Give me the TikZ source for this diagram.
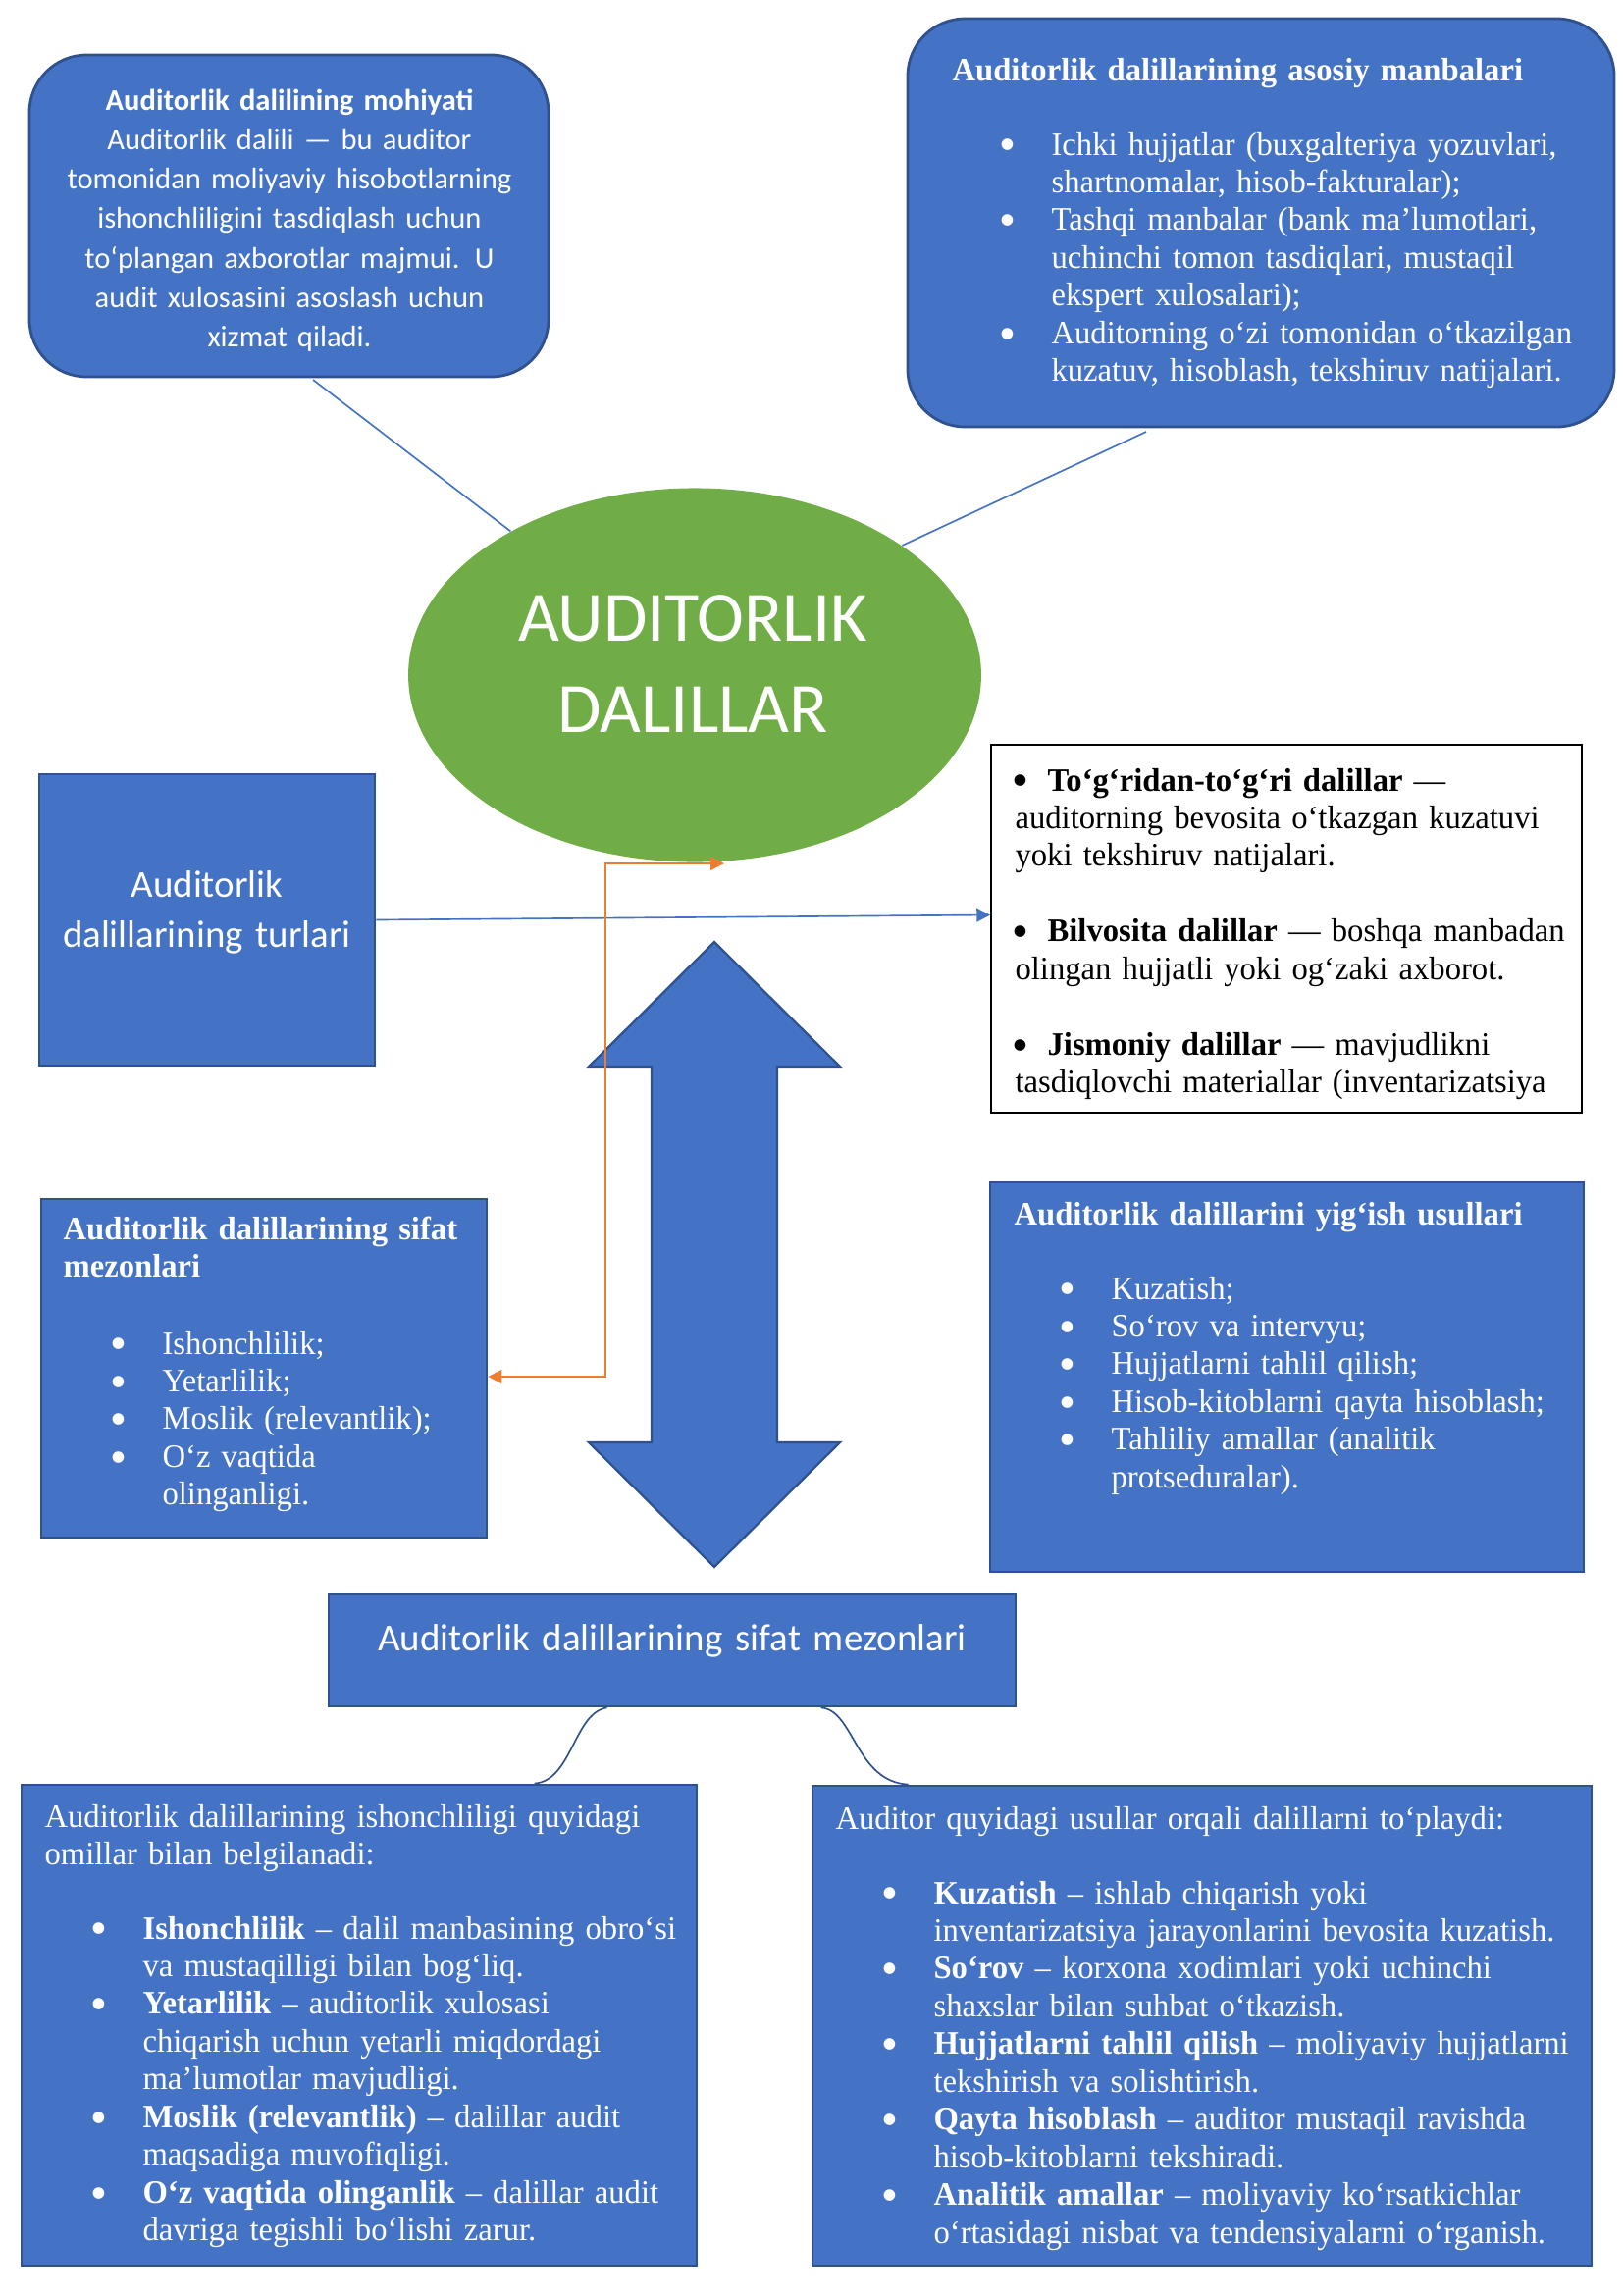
\documentclass[tikz,border=0pt]{standalone}
\usepackage{fontspec}
\setmainfont{Liberation Serif}[FakeStretch=0.98]
\newfontfamily\carlito{Carlito}
\newfontfamily\djv{DejaVu Sans}
\usetikzlibrary{shapes.geometric,fit,arrows.meta,calc}
\definecolor{obl}{HTML}{4472C4}
\definecolor{obd}{HTML}{2F528F}
\definecolor{ogr}{HTML}{70AD47}
\definecolor{oor}{HTML}{ED7D31}
\newcommand{\bigbul}{\makebox[0pt]{\raisebox{2.2pt}{\djv\fontsize{5.5}{6}\selectfont ●}}}
\newcommand{\bi}{\leavevmode\llap{\bigbul\hspace{16.2pt}}}
\newcommand{\wbul}{\hspace{1.8pt}\bigbul\hspace{10.1pt}}
\begin{document}
\begin{tikzpicture}[x=0.36pt,y=-0.36pt,
  >={Triangle[length=5pt,width=5pt]},
  bluebox/.style={fill=obl, draw=obd, line width=1pt, inner sep=0},
  wtxt/.style={inner sep=0, anchor=base west, align=left, text width=270pt, text=white, font=\fontsize{12}{13.85}\selectfont},
  wtitle/.style={wtxt, font=\fontsize{12}{13.85}\selectfont\bfseries},
  ctxt/.style={inner sep=0, anchor=base, align=center, text=white},
  conn/.style={draw=obl, line width=0.6pt},
  oconn/.style={draw=oor, line width=0.6pt},
  cconn/.style={draw=obd, line width=0.6pt}]
\useasboundingbox (0,0) rectangle (1654,2339);

% big double arrow
\path[fill=obl, draw=obd, line width=0.8pt] (728,960) -- (856,1087) -- (792,1087) -- (792,1470) -- (856,1470) -- (728,1597) -- (600,1470) -- (664,1470) -- (664,1087) -- (600,1087) -- cycle;

% central ellipse
\node (ell) [ellipse, fill=ogr, inner sep=0, minimum width=210.2pt, minimum height=137.2pt] at (708,688) {};
\node (elltext) [ctxt, text width=150pt, font=\carlito\fontsize{26}{33.5}\selectfont] at (706,653) {AUDITORLIK\\DALILLAR};

% top-left box
\node (tl) [bluebox, rounded corners=21pt, fit={(30,56)(559,384)}] {};
\node (tltext) [ctxt, text width=190pt, font=\carlito\fontsize{11}{14.5}\selectfont] at (295,112)
  {\textbf{Auditorlik dalilining mohiyati}\\Auditorlik dalili — bu auditor\\tomonidan moliyaviy hisobotlarning\\ishonchliligini tasdiqlash uchun\\to‘plangan axborotlar majmui. U\\audit xulosasini asoslash uchun\\xizmat qiladi.};

% top-right box
\node (tr) [bluebox, rounded corners=21pt, fit={(925,19)(1645,435)}] {};
\node (trtitle) [wtitle] at (970,82) {Auditorlik dalillarining asosiy manbalari};
\node (trlist) [wtxt] at (1071,158)
  {\bi Ichki hujjatlar (buxgalteriya yozuvlari,\\shartnomalar, hisob-fakturalar);\\\bi Tashqi manbalar (bank ma’lumotlari,\\uchinchi tomon tasdiqlari, mustaqil\\ekspert xulosalari);\\\bi Auditorning o‘zi tomonidan o‘tkazilgan\\kuzatuv, hisoblash, tekshiruv natijalari.};

% types box
\node (turl) [bluebox, fit={(40,789)(382,1086)}] {};
\node (turltext) [ctxt, text width=120pt, font=\carlito\fontsize{14}{18.4}\selectfont] at (211,914) {Auditorlik\\dalillarining turlari};

% white box
\node (wb) [draw=black, line width=0.6pt, fill=white, inner sep=0, fit={(1010,759)(1612,1134)}] {};
\node (wbtext) [wtxt, text=black] at (1034,806)
  {\wbul\textbf{To‘g‘ridan-to‘g‘ri dalillar} —\\auditorning bevosita o‘tkazgan kuzatuvi\\yoki tekshiruv natijalari.\\[13.85pt]\wbul\textbf{Bilvosita dalillar} — boshqa manbadan\\olingan hujjatli yoki og‘zaki axborot.\\[13.85pt]\wbul\textbf{Jismoniy dalillar} — mavjudlikni\\tasdiqlovchi materiallar (inventarizatsiya};

% quality criteria box (left)
\node (sif) [bluebox, fit={(42,1222)(496,1567)}] {};
\node (siftitle) [wtitle] at (64,1263) {Auditorlik dalillarining sifat\\mezonlari};
\node (siflist) [wtxt] at (165,1380) {\bi Ishonchlilik;\\\bi Yetarlilik;\\\bi Moslik (relevantlik);\\\bi O‘z vaqtida\\olinganligi.};

% collection methods box (right)
\node (yig) [bluebox, fit={(1009,1205)(1614,1602)}] {};
\node (yigtitle) [wtitle] at (1033,1248) {Auditorlik dalillarini yig‘ish usullari};
\node (yiglist) [wtxt] at (1132,1324) {\bi Kuzatish;\\\bi So‘rov va intervyu;\\\bi Hujjatlarni tahlil qilish;\\\bi Hisob-kitoblarni qayta hisoblash;\\\bi Tahliliy amallar (analitik\\protseduralar).};

% middle bottom box
\node (mid) [bluebox, fit={(335,1625)(1035,1739)}] {};
\node (midtext) [ctxt, text width=240pt, font=\carlito\fontsize{14}{18.4}\selectfont] at (685,1682) {Auditorlik dalillarining sifat mezonlari};

% bottom-left box
\node (bl) [bluebox, fit={(22,1819)(710,2309)}] {};
\node (blintro) [wtxt] at (45,1862) {Auditorlik dalillarining ishonchliligi quyidagi\\omillar bilan belgilanadi:};
\node (bllist) [wtxt] at (145,1976)
  {\bi\textbf{Ishonchlilik} – dalil manbasining obro‘si\\va mustaqilligi bilan bog‘liq.\\\bi\textbf{Yetarlilik} – auditorlik xulosasi\\chiqarish uchun yetarli miqdordagi\\ma’lumotlar mavjudligi.\\\bi\textbf{Moslik (relevantlik)} – dalillar audit\\maqsadiga muvofiqligi.\\\bi\textbf{O‘z vaqtida olinganlik} – dalillar audit\\davriga tegishli bo‘lishi zarur.};

% bottom-right box
\node (br) [bluebox, fit={(828,1820)(1622,2309)}] {};
\node (brintro) [wtxt] at (851,1864) {Auditor quyidagi usullar orqali dalillarni to‘playdi:};
\node (brlist) [wtxt] at (951,1940)
  {\bi\textbf{Kuzatish} – ishlab chiqarish yoki\\inventarizatsiya jarayonlarini bevosita kuzatish.\\\bi\textbf{So‘rov} – korxona xodimlari yoki uchinchi\\shaxslar bilan suhbat o‘tkazish.\\\bi\textbf{Hujjatlarni tahlil qilish} – moliyaviy hujjatlarni\\tekshirish va solishtirish.\\\bi\textbf{Qayta hisoblash} – auditor mustaqil ravishda\\hisob-kitoblarni tekshiradi.\\\bi\textbf{Analitik amallar} – moliyaviy ko‘rsatkichlar\\o‘rtasidagi nisbat va tendensiyalarni o‘rganish.};

% connectors
\coordinate (tlfoot) at (319,387);
\coordinate (trfoot) at (1168,440);
\draw[conn] (tlfoot) -- (ell.142.5);
\draw[conn] (trfoot) -- (ell.32);
\draw[conn, ->] (turl.east) -- ($(wb.west)+(0,-14)$);
\coordinate (otop) at (738,880);
\coordinate (obend) at (617,1403);
\draw[oconn, <->] (sif.east |- obend) -- (obend) |- (otop);
\draw[cconn] ($(mid.south west)+(285,0)$) .. controls (585,1745) and (583,1815) .. ($(bl.north west)+(524,0)$);
\draw[cconn] ($(mid.south west)+(503,0)$) .. controls (870,1742) and (872,1816) .. ($(br.north west)+(99,0)$);
\end{tikzpicture}
\end{document}
